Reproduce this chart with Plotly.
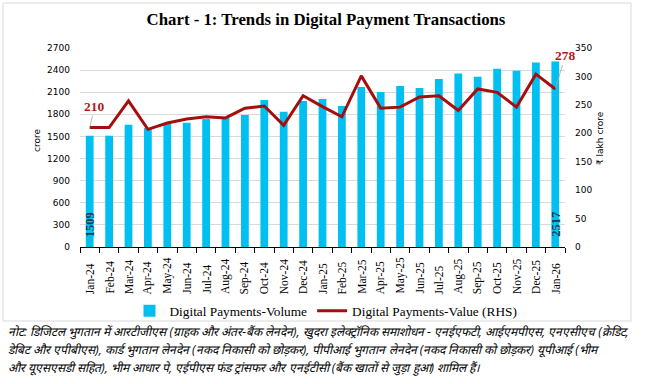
import plotly.graph_objects as go

months = ["Jan-24", "Feb-24", "Mar-24", "Apr-24", "May-24", "Jun-24", "Jul-24", "Aug-24",
          "Sep-24", "Oct-24", "Nov-24", "Dec-24", "Jan-25", "Feb-25", "Mar-25", "Apr-25",
          "May-25", "Jun-25", "Jul-25", "Aug-25", "Sep-25", "Oct-25", "Nov-25", "Dec-25", "Jan-26"]
volume = [1509, 1510, 1658, 1613, 1677, 1686, 1736, 1754, 1790, 1995, 1836, 1981, 2009,
          1913, 2172, 2104, 2186, 2158, 2281, 2354, 2309, 2418, 2390, 2503, 2517]
value = [210, 210, 257, 207, 218, 225, 229, 227, 244, 248, 214, 266, 247, 229, 301, 244,
         246, 264, 266, 240, 278, 272, 246, 304, 278]
left_ticks = [0, 300, 600, 900, 1200, 1500, 1800, 2100, 2400, 2700]
right_ticks = [0, 50, 100, 150, 200, 250, 300, 350]

title_text = "Chart - 1: Trends in Digital Payment Transactions"
note_lines = [
    "नोट: डिजिटल भुगतान में आरटीजीएस (ग्राहक और अंतर-बैंक लेनदेन), खुदरा इलेक्ट्रॉनिक समाशोधन - एनईएफटी, आईएमपीएस, एनएसीएच (क्रेडिट,",
    "डेबिट और एपीबीएस), कार्ड भुगतान लेनदेन (नकद निकासी को छोड़कर), पीपीआई भुगतान लेनदेन (नकद निकासी को छोड़कर) यूपीआई (भीम",
    "और यूएसएसडी सहित), भीम आधार पे, एईपीएस फंड ट्रांसफर और एनईटीसी (बैंक खातों से जुड़ा हुआ) शामिल हैं।",
]

W, H = 652, 384
L, R, T, B = 80, 87, 48, 137
PW, PH = W - L - R, H - T - B

def px(x):
    return (x - L) / PW

def py(y):
    return (H - B - y) / PH

SERIF = "Liberation Serif"
SANS = "DejaVu Sans"
BAR_COLOR = "#00C0F2"
LINE_COLOR = "#A50E0E"

fig = go.Figure()
fig.add_trace(go.Bar(x=months, y=volume, name="Digital Payments-Volume",
                     marker=dict(color=BAR_COLOR, line=dict(width=0)), yaxis="y"))
fig.add_trace(go.Scatter(x=months, y=value, name="Digital Payments-Value (RHS)", mode="lines",
                         line=dict(color=LINE_COLOR, width=3), yaxis="y2"))

annotations = []
# x tick labels (rotated, bottom aligned)
for m in months:
    annotations.append(dict(x=m, xref="x", y=py(296), yref="paper", text=m, textangle=-90,
                            showarrow=False, xanchor="center", yanchor="bottom",
                            font=dict(family=SERIF, size=11.5, color="#000000")))
# data labels on bars
for i in (0, len(months) - 1):
    annotations.append(dict(x=months[i], xref="x", y=0, yref="y", text="<b>%d</b>" % volume[i],
                            textangle=-90, showarrow=False, xanchor="center", yanchor="bottom",
                            yshift=8, font=dict(family=SERIF, size=12.5, color="#173A4E")))
# line labels
annotations.append(dict(x=months[0], xref="x", y=value[0], yref="y2", text="<b>%d</b>" % value[0],
                        showarrow=True, arrowhead=0, arrowwidth=0.8, arrowcolor="#A6A6A6",
                        ax=5, ay=-21, standoff=1,
                        font=dict(family=SERIF, size=13.5, color="#B01A1A")))
annotations.append(dict(x=months[-1], xref="x", y=value[-1], yref="y2", text="<b>%d</b>" % value[-1],
                        showarrow=True, arrowhead=0, arrowwidth=0.8, arrowcolor="#A6A6A6",
                        ax=10, ay=-33, standoff=1,
                        font=dict(family=SERIF, size=13.5, color="#B01A1A")))
# axis titles
annotations.append(dict(x=px(30), xref="paper", y=py(141), yref="paper", text="crore",
                        textangle=-90, showarrow=False,
                        font=dict(family=SANS, size=9, color="#000000")))
annotations.append(dict(x=px(607), xref="paper", y=py(138), yref="paper", text="₹ lakh crore",
                        textangle=-90, showarrow=False,
                        font=dict(family=SANS, size=9, color="#000000")))
# note
for k, line in enumerate(note_lines):
    annotations.append(dict(x=px(6), xref="paper", y=py(331 + 18 * k), yref="paper",
                            text="<i>" + line + "</i>", showarrow=False, xanchor="left",
                            yanchor="middle", font=dict(size=12, color="#000000")))

fig.update_layout(
    width=W, height=H,
    margin=dict(l=L, r=R, t=T, b=B, pad=0, autoexpand=False),
    paper_bgcolor="#FFFFFF", plot_bgcolor="#FFFFFF",
    title=dict(text="<b>" + title_text + "</b>", x=0.5, xanchor="center", y=1 - 19 / H,
               yanchor="middle", font=dict(family=SERIF, size=16.8, color="#000000")),
    bargap=0.6,
    showlegend=True,
    legend=dict(orientation="h", xref="container", yref="container", x=0.5, xanchor="center",
                y=1 - 311 / H, yanchor="middle", font=dict(family=SERIF, size=13.3, color="#000000"),
                itemwidth=30, tracegroupgap=0, bgcolor="rgba(0,0,0,0)"),
    xaxis=dict(type="category", showticklabels=False, ticks="outside", tickson="boundaries",
               ticklen=5, tickcolor="#000000", tickwidth=1, showline=True, linecolor="#000000",
               linewidth=1, showgrid=False, zeroline=False, range=[-0.5, len(months) - 0.5],
               automargin=False),
    yaxis=dict(range=[0, 2700], tickvals=left_ticks, showgrid=True, gridcolor="#D9D9D9",
               gridwidth=1, zeroline=False, showline=False, ticks="", automargin=False,
               tickfont=dict(family=SANS, size=9, color="#000000"), ticklabelstandoff=9),
    yaxis2=dict(range=[0, 350], tickvals=right_ticks, overlaying="y", side="right",
                showgrid=False, zeroline=False, showline=False, ticks="", automargin=False,
                tickfont=dict(family=SANS, size=9, color="#000000"), ticklabelstandoff=9),
    annotations=annotations,
    shapes=[dict(type="rect", xref="paper", yref="paper", x0=px(3), x1=px(631), y0=py(321), y1=py(3),
                 line=dict(color="#D9D9D9", width=1), fillcolor="rgba(0,0,0,0)", layer="below")],
)

fig.write_html("out.html", config={"displayModeBar": False},
               post_script="document.body.style.margin='0';document.body.style.overflow='hidden';")
